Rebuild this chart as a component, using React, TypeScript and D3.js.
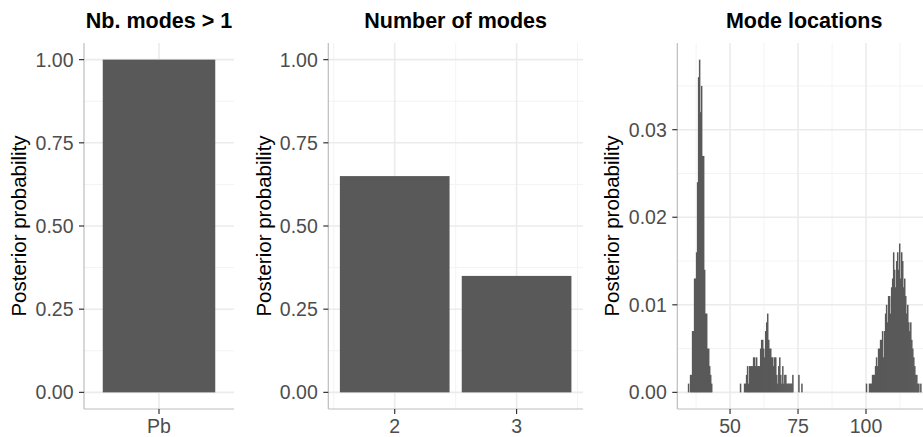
import React from 'react';
import * as d3 from 'd3';

// ---- data ----
// panel 1: probability of more than one mode
const anyModeCats = ['Pb'];
const anyModeProb = [1.0];

// panel 2: number of modes
const nbModes = [2, 3];
const nbModesProb = [0.65, 0.35];

// panel 3: mode locations (histogram, one entry per bin)
const modeBinWidth = 0.37;
const modeGroupStarts = [34.56, 53.68, 100.0];
const modeGroup1 = [
  0.001, 0, 0.002, 0.002, 0.007, 0.007, 0.013, 0.013, 0.016, 0.024, 0.036, 0.038,
  0.032, 0.035, 0.027, 0.027, 0.014, 0.009, 0.009, 0.005, 0.005, 0.003, 0.002, 0.001,
];
const modeGroup2 = [
  0.001, 0, 0, 0, 0.001, 0.001, 0.002, 0.003, 0.001, 0.003, 0.003, 0.003, 0.003, 0.004,
  0.004, 0.003, 0.004, 0.003, 0.003, 0.003, 0.005, 0.006, 0.006, 0.005, 0.004, 0.007,
  0.008, 0.009, 0.006, 0.005, 0.005, 0.004, 0.004, 0.003, 0.004, 0.004, 0.002, 0.001,
  0.003, 0.004, 0.002, 0.001, 0.003, 0.001, 0.002, 0.002, 0.001, 0.001, 0.001, 0.001,
  0.001, 0.001, 0.002, 0, 0, 0, 0, 0, 0.002, 0, 0, 0.001,
];
const modeGroup3 = [
  0.001, 0, 0, 0.001, 0.001, 0.001, 0.002, 0.002, 0.002, 0.003, 0.004, 0.003, 0.005,
  0.005, 0.006, 0.006, 0.007, 0.004, 0.007, 0.009, 0.010, 0.008, 0.011, 0.011, 0.009,
  0.012, 0.013, 0.016, 0.014, 0.012, 0.015, 0.016, 0.014, 0.017, 0.013, 0.016, 0.015,
  0.012, 0.013, 0.011, 0.009, 0.010, 0.008, 0.007, 0.008, 0.006, 0.005, 0.004, 0.003,
  0.002, 0.002, 0.001, 0.001, 0, 0.001,
];

const probTicks = [0, 0.25, 0.5, 0.75, 1];
const probMinor = [0.125, 0.375, 0.625, 0.875];
const locYTicks = [0, 0.01, 0.02, 0.03];
const locYMinor = [0.005, 0.015, 0.025, 0.035];
const locXTicks = [50, 75, 100];
const locXMinor = [37.5, 62.5, 87.5, 112.5];
const nbXMinor = [1.5, 2.5, 3.5];

const W = 923;
const H = 437;
const TOP = 43;
const BOTTOM = 409;
const FONT = '"Liberation Sans", Arial, Helvetica, sans-serif';
const BAR = '#595959';

type PanelProps = {
  x0: number;
  x1: number;
  y: d3.ScaleLinear<number, number>;
  yTicks: number[];
  yMinor: number[];
  yFmt: (v: number) => string;
  xMajor: number[];
  xMinor: number[];
  xLabels: { x: number; text: string }[];
  title: string;
  ytitleX: number;
  children?: React.ReactNode;
};

function Panel({ x0, x1, y, yTicks, yMinor, yFmt, xMajor, xMinor, xLabels, title, ytitleX, children }: PanelProps) {
  return (
    <g>
      {/* grid */}
      {yMinor.map(v => (
        <line key={'ym' + v} x1={x0} x2={x1} y1={y(v)} y2={y(v)} stroke="#F2F2F2" strokeWidth={0.9} />
      ))}
      {xMinor.map(v => (
        <line key={'xm' + v} x1={v} x2={v} y1={TOP} y2={BOTTOM} stroke="#F2F2F2" strokeWidth={0.9} />
      ))}
      {yTicks.map(v => (
        <line key={'yM' + v} x1={x0} x2={x1} y1={y(v)} y2={y(v)} stroke="#EBEBEB" strokeWidth={1.6} />
      ))}
      {xMajor.map(v => (
        <line key={'xM' + v} x1={v} x2={v} y1={TOP} y2={BOTTOM} stroke="#EBEBEB" strokeWidth={1.6} />
      ))}

      {children}

      {/* axes */}
      <line x1={x0} x2={x0} y1={TOP} y2={BOTTOM} stroke="#BDBDBD" strokeWidth={1.2} />
      <line x1={x0} x2={x1} y1={BOTTOM} y2={BOTTOM} stroke="#BDBDBD" strokeWidth={1.2} />

      {yTicks.map(v => (
        <g key={'yt' + v}>
          <line x1={x0 - 5} x2={x0} y1={y(v)} y2={y(v)} stroke="#333333" strokeWidth={1.2} />
          <text x={x0 - 10.5} y={y(v)} dy="0.36em" textAnchor="end" fontSize={19.5} fill="#4D4D4D">
            {yFmt(v)}
          </text>
        </g>
      ))}
      {xLabels.map(l => (
        <g key={'xt' + l.text}>
          <line x1={l.x} x2={l.x} y1={BOTTOM} y2={BOTTOM + 5} stroke="#333333" strokeWidth={1.2} />
          <text x={l.x} y={432.5} textAnchor="middle" fontSize={19.5} fill="#4D4D4D">
            {l.text}
          </text>
        </g>
      ))}

      <text
        transform={`translate(${ytitleX},${(TOP + BOTTOM) / 2}) rotate(-90)`}
        textAnchor="middle"
        fontSize={20.5}
        fill="#000"
      >
        Posterior probability
      </text>
      <text x={(x0 + x1) / 2} y={28} textAnchor="middle" fontSize={21.5} fontWeight="bold" fill="#000">
        {title}
      </text>
    </g>
  );
}

export default function App() {
  const yProb = d3.scaleLinear().domain([-0.05, 1.05]).range([BOTTOM, TOP]);
  const fmt2 = d3.format('.2f');

  // panel 1
  const p1 = { x0: 84, x1: 234 };
  const xBand = d3
    .scaleBand<string>()
    .domain(anyModeCats)
    .range([p1.x0, p1.x1])
    .paddingInner(0.1)
    .paddingOuter(0.15);

  // panel 2
  const p2 = { x0: 328.3, x1: 583 };
  const xNb = d3.scaleLinear().domain([1.455, 3.545]).range([p2.x0, p2.x1]);

  // panel 3
  const p3 = { x0: 677.3, x1: 931 };
  const xLoc = d3.scaleLinear().domain([30.6, 123.9]).range([p3.x0, p3.x1]);
  const yLoc = d3.scaleLinear().domain([-0.0019, 0.0399]).range([BOTTOM, TOP]);
  const locBins: { x: number; p: number }[] = [];
  [modeGroup1, modeGroup2, modeGroup3].forEach((g, gi) => {
    g.forEach((p, i) => locBins.push({ x: modeGroupStarts[gi] + i * modeBinWidth, p }));
  });

  return (
    <svg
      width={W}
      height={H}
      style={{ position: 'absolute', left: 0, top: 0, background: '#fff' }}
      fontFamily={FONT}
    >
      <Panel
        x0={p1.x0}
        x1={p1.x1}
        y={yProb}
        yTicks={probTicks}
        yMinor={probMinor}
        yFmt={fmt2}
        xMajor={anyModeCats.map(c => xBand(c)! + xBand.bandwidth() / 2)}
        xMinor={[]}
        xLabels={anyModeCats.map(c => ({ x: xBand(c)! + xBand.bandwidth() / 2, text: c }))}
        title="Nb. modes > 1"
        ytitleX={26}
      >
        {anyModeCats.map((c, i) => (
          <rect
            key={c}
            x={xBand(c)}
            width={xBand.bandwidth()}
            y={yProb(anyModeProb[i])}
            height={yProb(0) - yProb(anyModeProb[i])}
            fill={BAR}
          />
        ))}
      </Panel>

      <Panel
        x0={p2.x0}
        x1={p2.x1}
        y={yProb}
        yTicks={probTicks}
        yMinor={probMinor}
        yFmt={fmt2}
        xMajor={nbModes.map(v => xNb(v))}
        xMinor={nbXMinor.map(v => xNb(v))}
        xLabels={nbModes.map(v => ({ x: xNb(v), text: String(v) }))}
        title="Number of modes"
        ytitleX={271}
      >
        {nbModes.map((v, i) => (
          <rect
            key={v}
            x={xNb(v - 0.45)}
            width={xNb(v + 0.45) - xNb(v - 0.45)}
            y={yProb(nbModesProb[i])}
            height={yProb(0) - yProb(nbModesProb[i])}
            fill={BAR}
          />
        ))}
      </Panel>

      <Panel
        x0={p3.x0}
        x1={p3.x1}
        y={yLoc}
        yTicks={locYTicks}
        yMinor={locYMinor}
        yFmt={d3.format('.2f')}
        xMajor={locXTicks.map(v => xLoc(v))}
        xMinor={locXMinor.map(v => xLoc(v))}
        xLabels={locXTicks.map(v => ({ x: xLoc(v), text: String(v) }))}
        title="Mode locations"
        ytitleX={619}
      >
        {locBins
          .filter(b => b.p > 0)
          .map((b, i) => (
            <rect
              key={i}
              x={xLoc(b.x) - 0.25}
              width={xLoc(b.x + modeBinWidth) - xLoc(b.x) + 0.5}
              y={yLoc(b.p)}
              height={yLoc(0) - yLoc(b.p)}
              fill={BAR}
            />
          ))}
      </Panel>
    </svg>
  );
}
